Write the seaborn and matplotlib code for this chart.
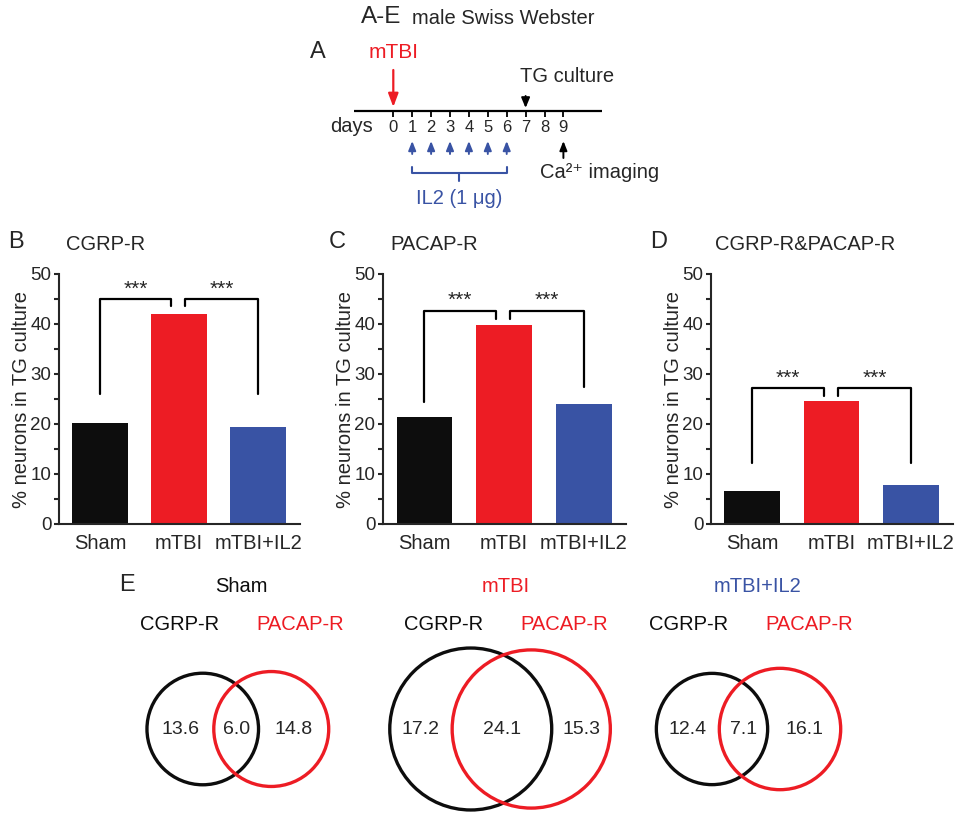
import numpy as np
import pandas as pd
import matplotlib
matplotlib.use("Agg")
import matplotlib.pyplot as plt
from matplotlib.patches import Circle
from matplotlib.ticker import MultipleLocator
import seaborn as sns

# ---- data ----
groups = ['Sham', 'mTBI', 'mTBI+IL2']
cgrp_r = [20.3, 42.1, 19.5]
pacap_r = [21.4, 39.9, 24.0]
cgrp_pacap_r = [6.6, 24.7, 7.8]

days = list(range(10))
injury_day = 0
il2_days = [1, 2, 3, 4, 5, 6]
culture_day = 7
imaging_day = 9

venn_cgrp_only = [13.6, 17.2, 12.4]
venn_both = [6.0, 24.1, 7.1]
venn_pacap_only = [14.8, 15.3, 16.1]

BLACK = '#0d0d0d'
RED = '#ed1c24'
BLUE = '#3953a4'
colors = [BLACK, RED, BLUE]

sns.set_style('ticks')
plt.rcParams['font.family'] = ['Liberation Sans', 'DejaVu Sans']

W, H = 964, 815
fig = plt.figure(figsize=(W / 100, H / 100), dpi=100)


def px_axes(x0, y0, x1, y1):
    return fig.add_axes([x0 / W, 1 - y1 / H, (x1 - x0) / W, (y1 - y0) / H])


# ---- bar panels B-D ----
panels = [
    ('B', 'CGRP-R', cgrp_r, (59, 274, 300, 524), (45.0, 26.0, 43.6, 26.0), 16, 66),
    ('C', 'PACAP-R', pacap_r, (383, 274, 626, 524), (42.7, 24.4, 41.0, 27.5), 337, 390),
    ('D', 'CGRP-R&PACAP-R', cgrp_pacap_r, (711, 274, 953, 524), (27.2, 12.3, 25.6, 12.3), 659, 715),
]

for letter, title, vals, box, br, lx, tx in panels:
    ax = px_axes(*box)
    df = pd.DataFrame({'group': groups, 'value': vals})
    sns.barplot(data=df, x='group', y='value', hue='group', palette=colors,
                saturation=1, width=0.7, legend=False, ax=ax, linewidth=0)
    ax.set_xlim(-0.52, 2.53)
    ax.set_ylim(0, 50)
    ax.yaxis.set_major_locator(MultipleLocator(10))
    ax.yaxis.set_minor_locator(MultipleLocator(5))
    ax.tick_params(axis='y', which='both', length=3.5, width=1.5, labelsize=13.5, pad=2)
    ax.tick_params(axis='x', length=0, labelsize=14.5, pad=7)
    sns.despine(ax=ax)
    for s in ('left', 'bottom'):
        ax.spines[s].set_linewidth(1.5)
    ax.set_xlabel('')
    ax.set_ylabel('% neurons in TG culture', fontsize=14.5)
    ax.yaxis.set_label_coords(-0.115, 0.5)

    top, left_leg, inner_leg, right_leg = br
    ax.plot([0, 0, 0.9, 0.9], [left_leg, top, top, inner_leg], color='black', lw=1.6)
    ax.plot([1.08, 1.08, 2, 2], [inner_leg, top, top, right_leg], color='black', lw=1.6)
    ax.text(0.45, top + 0.9, '***', ha='center', va='baseline', fontsize=15)
    ax.text(1.54, top + 0.9, '***', ha='center', va='baseline', fontsize=15)

    fig.text(lx / W, 1 - 242 / H, letter, fontsize=17, ha='center', va='center')
    fig.text(tx / W, 1 - 244 / H, title, fontsize=14.5, ha='left', va='center')

# ---- panel A timeline ----
axA = px_axes(354, 35, 602, 215)
to_day = lambda p: (p - 393.3) / 18.9
axA.set_xlim(to_day(354), to_day(602))
axA.set_ylim(215, 35)
axA.axis('off')
axA.axhline(111, color='black', lw=1.6)
axA.vlines(days, 111, 117, color='black', lw=1.3)
for d in days:
    axA.text(d, 128, str(d), ha='center', va='center', fontsize=12)


def arrow(ax, x, y_tail, y_head, color, hl=0.6, hw=0.25, lw=1.4):
    ax.annotate('', xy=(x, y_head), xytext=(x, y_tail),
                arrowprops=dict(arrowstyle=f'-|>,head_length={hl},head_width={hw}',
                                color=color, lw=lw, shrinkA=0, shrinkB=0))


arrow(axA, injury_day, 70, 107, RED, hl=0.8, hw=0.3, lw=1.6)
arrow(axA, culture_day, 96, 108, 'black', hl=0.6, hw=0.25)
for d in il2_days:
    arrow(axA, d, 154, 141, BLUE, hl=0.55, hw=0.22)
arrow(axA, imaging_day, 158, 141, 'black', hl=0.55, hw=0.22)

mid = (il2_days[0] + il2_days[-1]) / 2
axA.plot([il2_days[0], il2_days[0], il2_days[-1], il2_days[-1]], [167, 173, 173, 167],
         color=BLUE, lw=1.5)
axA.plot([mid, mid], [173, 181], color=BLUE, lw=1.5)

axA.text(injury_day, 53, 'mTBI', color=RED, fontsize=15, ha='center', va='center')
axA.text(culture_day - 0.28, 77, 'TG culture', fontsize=14.5, ha='left', va='center')
axA.text(imaging_day - 1.24, 172, 'Ca\u00b2\u207a imaging', fontsize=14.5,
         ha='left', va='center')
axA.text(mid, 198, 'IL2 (1 \u03bcg)', color=BLUE, fontsize=14.5, ha='center', va='center')
axA.text(to_day(373), 126, 'days', fontsize=14.5, ha='right', va='center')

# ---- overlay: titles and Venn diagrams (pixel coordinates) ----
ov = fig.add_axes([0, 0, 1, 1])
ov.set_xlim(0, W)
ov.set_ylim(H, 0)
ov.axis('off')
ov.patch.set_alpha(0)

ov.text(381, 17, 'A-E', fontsize=17.5, ha='center', va='center')
ov.text(412, 18, 'male Swiss Webster', fontsize=14.5, ha='left', va='center')
ov.text(318, 52, 'A', fontsize=17, ha='center', va='center')

ov.text(127, 585, 'E', fontsize=17, ha='center', va='center')
header_x = [241, 506, 758]
venn_mid_x = [237, 501, 746]
venn_gap = [68.5, 60.5, 68]
venn_y = 729
px_per_sqrt = 12.6

for i, g in enumerate(groups):
    ov.text(header_x[i], 586, g, color=colors[i], fontsize=14.5, ha='center', va='center')
    m = venn_mid_x[i]
    ov.text(m - 57, 624, 'CGRP-R', color=BLACK, fontsize=14.5, ha='center', va='center')
    ov.text(m + 63, 624, 'PACAP-R', color=RED, fontsize=14.5, ha='center', va='center')

    r_c = px_per_sqrt * np.sqrt(venn_cgrp_only[i] + venn_both[i])
    r_p = px_per_sqrt * np.sqrt(venn_pacap_only[i] + venn_both[i])
    cx_c = m - venn_gap[i] / 2
    cx_p = m + venn_gap[i] / 2
    ov.add_patch(Circle((cx_c, venn_y), r_c, fill=False, ec=BLACK, lw=2.4))
    ov.add_patch(Circle((cx_p, venn_y), r_p, fill=False, ec=RED, lw=2.4))

    x_only_c = ((cx_c - r_c) + (cx_p - r_p)) / 2
    x_both = ((cx_p - r_p) + (cx_c + r_c)) / 2
    x_only_p = ((cx_c + r_c) + (cx_p + r_p)) / 2
    for x, v in zip([x_only_c, x_both, x_only_p],
                    [venn_cgrp_only[i], venn_both[i], venn_pacap_only[i]]):
        ov.text(x, venn_y, f'{v:.1f}', fontsize=14, ha='center', va='center')

fig.savefig('out.png', dpi=100)
